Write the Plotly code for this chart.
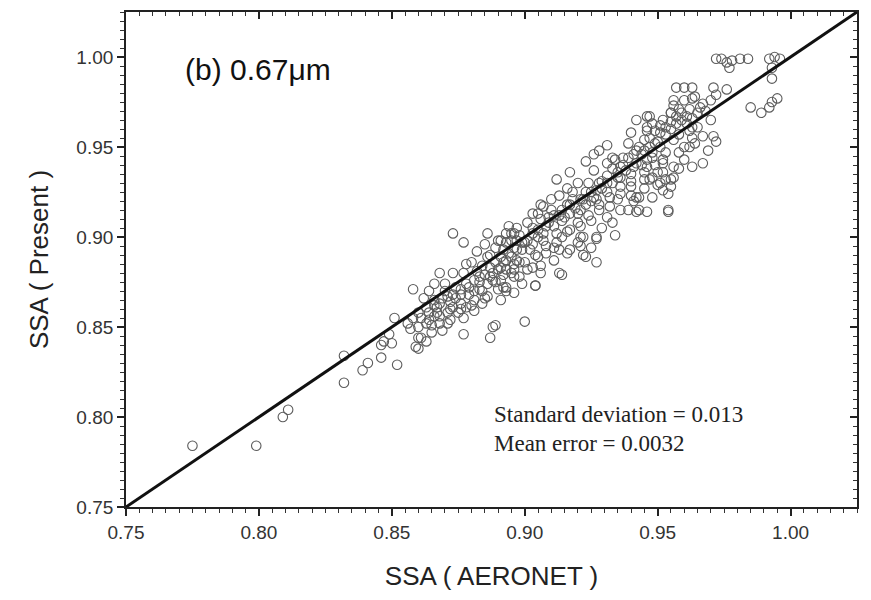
import plotly.graph_objects as go

# (AERONET SSA, retrieved SSA) pairs, grouped by where they sit in the cloud
low_tail = [
    (0.775, 0.784), (0.799, 0.784), (0.811, 0.804), (0.809, 0.800),
    (0.832, 0.819), (0.832, 0.834), (0.839, 0.826), (0.841, 0.830),
    (0.846, 0.840), (0.846, 0.833), (0.850, 0.841), (0.852, 0.829),
    (0.851, 0.855), (0.857, 0.849), (0.860, 0.844), (0.860, 0.838),
    (0.858, 0.871), (0.863, 0.842), (0.865, 0.851), (0.869, 0.848),
    (0.871, 0.852), (0.867, 0.858), (0.873, 0.861), (0.866, 0.874),
    (0.868, 0.880), (0.873, 0.880), (0.873, 0.902), (0.877, 0.897),
    (0.880, 0.886), (0.877, 0.846), (0.887, 0.844), (0.889, 0.851),
    (0.847, 0.842), (0.849, 0.846),
]

band_lower = [
    (0.860, 0.858), (0.863, 0.861), (0.866, 0.865), (0.868, 0.863),
    (0.871, 0.867), (0.873, 0.868), (0.876, 0.871), (0.878, 0.874),
    (0.881, 0.876), (0.883, 0.878), (0.886, 0.874), (0.888, 0.880),
    (0.891, 0.876), (0.893, 0.882), (0.896, 0.878), (0.891, 0.883),
    (0.893, 0.887), (0.897, 0.887), (0.890, 0.898), (0.893, 0.902),
    (0.896, 0.902), (0.876, 0.863), (0.878, 0.861), (0.881, 0.865),
    (0.884, 0.863), (0.875, 0.858), (0.871, 0.858), (0.866, 0.856),
    (0.863, 0.852), (0.860, 0.850), (0.861, 0.844), (0.859, 0.839),
    (0.865, 0.847), (0.868, 0.852), (0.872, 0.854), (0.877, 0.855),
    (0.881, 0.859), (0.886, 0.867), (0.890, 0.871), (0.893, 0.872),
    (0.896, 0.869), (0.891, 0.865), (0.888, 0.850),
    (0.862, 0.866), (0.864, 0.870), (0.882, 0.892), (0.884, 0.884),
    (0.887, 0.890), (0.893, 0.870), (0.885, 0.866), (0.879, 0.868),
    (0.874, 0.872), (0.870, 0.874), (0.877, 0.880), (0.883, 0.871),
    (0.889, 0.875), (0.895, 0.880), (0.886, 0.902),
    (0.856, 0.852), (0.858, 0.855), (0.861, 0.855), (0.864, 0.858),
    (0.867, 0.861), (0.869, 0.866), (0.872, 0.864), (0.874, 0.866),
    (0.876, 0.868), (0.879, 0.872), (0.881, 0.870), (0.883, 0.875),
    (0.885, 0.879), (0.887, 0.883), (0.889, 0.886), (0.891, 0.889),
    (0.892, 0.879), (0.888, 0.876), (0.884, 0.870), (0.880, 0.862),
    (0.876, 0.860), (0.872, 0.860), (0.868, 0.856), (0.864, 0.854),
    (0.870, 0.870), (0.866, 0.862), (0.882, 0.881), (0.878, 0.885),
    (0.885, 0.896), (0.894, 0.906),
]

band_middle = [
    (0.891, 0.898), (0.895, 0.902), (0.897, 0.905), (0.901, 0.908),
    (0.905, 0.913), (0.907, 0.917), (0.910, 0.921), (0.913, 0.923),
    (0.916, 0.927), (0.920, 0.930), (0.923, 0.942), (0.926, 0.946),
    (0.926, 0.937), (0.931, 0.941), (0.933, 0.944), (0.937, 0.944),
    (0.926, 0.922), (0.922, 0.921), (0.921, 0.915), (0.925, 0.909),
    (0.927, 0.900), (0.922, 0.900), (0.921, 0.906), (0.917, 0.913),
    (0.914, 0.909), (0.917, 0.904), (0.914, 0.900), (0.912, 0.902),
    (0.911, 0.894), (0.907, 0.898), (0.908, 0.891), (0.905, 0.889),
    (0.902, 0.893), (0.899, 0.897), (0.897, 0.893), (0.895, 0.889),
    (0.892, 0.886), (0.890, 0.882), (0.887, 0.878), (0.896, 0.882),
    (0.898, 0.886), (0.901, 0.882), (0.903, 0.883), (0.906, 0.880),
    (0.899, 0.874), (0.892, 0.872), (0.904, 0.873), (0.913, 0.880),
    (0.922, 0.890), (0.927, 0.886), (0.916, 0.891), (0.913, 0.893),
    (0.920, 0.897), (0.925, 0.894), (0.908, 0.906), (0.903, 0.902),
    (0.893, 0.897), (0.889, 0.894), (0.886, 0.889),
    (0.923, 0.889), (0.914, 0.879), (0.904, 0.873), (0.900, 0.853),
    (0.912, 0.932), (0.917, 0.936), (0.903, 0.913), (0.906, 0.918),
    (0.892, 0.893), (0.895, 0.898), (0.898, 0.901), (0.900, 0.897),
    (0.903, 0.905), (0.905, 0.900), (0.909, 0.908), (0.911, 0.912),
    (0.914, 0.915), (0.916, 0.918), (0.918, 0.921), (0.920, 0.913),
    (0.923, 0.918), (0.925, 0.925), (0.927, 0.921), (0.929, 0.927),
    (0.921, 0.895), (0.917, 0.893), (0.911, 0.887), (0.906, 0.884),
    (0.898, 0.878), (0.929, 0.905),
    (0.894, 0.891), (0.896, 0.894), (0.899, 0.893), (0.901, 0.898),
    (0.903, 0.896), (0.905, 0.904), (0.907, 0.902), (0.909, 0.911),
    (0.911, 0.906), (0.913, 0.912), (0.915, 0.911), (0.917, 0.918),
    (0.919, 0.916), (0.921, 0.921), (0.923, 0.925), (0.925, 0.920),
    (0.927, 0.926), (0.924, 0.912), (0.920, 0.908), (0.916, 0.903),
    (0.912, 0.897), (0.908, 0.895), (0.904, 0.890), (0.900, 0.886),
    (0.896, 0.885), (0.897, 0.898), (0.910, 0.915), (0.906, 0.910),
    (0.918, 0.925), (0.924, 0.930),
]

band_upper = [
    (0.939, 0.952), (0.940, 0.958), (0.942, 0.965), (0.946, 0.967),
    (0.948, 0.963), (0.952, 0.965), (0.955, 0.969), (0.956, 0.973),
    (0.945, 0.954), (0.948, 0.947), (0.952, 0.941), (0.955, 0.932),
    (0.951, 0.930), (0.948, 0.933), (0.945, 0.932), (0.942, 0.922),
    (0.940, 0.928), (0.936, 0.924), (0.943, 0.915), (0.939, 0.915),
    (0.935, 0.921), (0.932, 0.917), (0.933, 0.908), (0.928, 0.915),
    (0.954, 0.915), (0.948, 0.922), (0.954, 0.924), (0.956, 0.939),
    (0.935, 0.933), (0.931, 0.930), (0.928, 0.930), (0.936, 0.939),
    (0.941, 0.939), (0.946, 0.943), (0.951, 0.950), (0.956, 0.954),
    (0.942, 0.948), (0.946, 0.959), (0.951, 0.958),
    (0.942, 0.914), (0.940, 0.923), (0.931, 0.911), (0.927, 0.899),
    (0.921, 0.900), (0.934, 0.901), (0.931, 0.951), (0.928, 0.948),
    (0.931, 0.925), (0.933, 0.930), (0.936, 0.933), (0.938, 0.937),
    (0.940, 0.935), (0.942, 0.941), (0.944, 0.946), (0.947, 0.950),
    (0.950, 0.953), (0.953, 0.957), (0.955, 0.960), (0.957, 0.963),
    (0.959, 0.965), (0.961, 0.967), (0.963, 0.961), (0.958, 0.957),
    (0.953, 0.947), (0.945, 0.927), (0.941, 0.920), (0.936, 0.915),
    (0.929, 0.931), (0.931, 0.934), (0.933, 0.938), (0.935, 0.936),
    (0.937, 0.940), (0.939, 0.944), (0.941, 0.946), (0.943, 0.950),
    (0.945, 0.948), (0.947, 0.955), (0.949, 0.952), (0.951, 0.962),
    (0.953, 0.961), (0.955, 0.964), (0.957, 0.967), (0.959, 0.969),
    (0.961, 0.963), (0.944, 0.940), (0.940, 0.931), (0.936, 0.928),
    (0.932, 0.922), (0.928, 0.918), (0.934, 0.943), (0.949, 0.940),
    (0.952, 0.936), (0.958, 0.947),
]

top_end = [
    (0.972, 0.999), (0.974, 0.999), (0.976, 0.997), (0.978, 0.998),
    (0.981, 0.999), (0.984, 0.999), (0.977, 0.994), (0.992, 0.999),
    (0.994, 1.000), (0.996, 0.999), (0.993, 0.994), (0.993, 0.988),
    (0.957, 0.983), (0.960, 0.983), (0.963, 0.983), (0.971, 0.983),
    (0.976, 0.982), (0.972, 0.979), (0.956, 0.976), (0.960, 0.976),
    (0.963, 0.977), (0.967, 0.974), (0.970, 0.976), (0.958, 0.971),
    (0.962, 0.971), (0.965, 0.969), (0.955, 0.969), (0.947, 0.967),
    (0.946, 0.961), (0.949, 0.959), (0.962, 0.959), (0.965, 0.961),
    (0.970, 0.965), (0.967, 0.956), (0.963, 0.955), (0.960, 0.950),
    (0.962, 0.950), (0.971, 0.956), (0.972, 0.953), (0.985, 0.972),
    (0.989, 0.969), (0.992, 0.972), (0.995, 0.977), (0.993, 0.975),
    (0.948, 0.944), (0.952, 0.943), (0.946, 0.939), (0.950, 0.936),
    (0.947, 0.932), (0.953, 0.932), (0.956, 0.933), (0.958, 0.938),
    (0.960, 0.943), (0.963, 0.939), (0.967, 0.941), (0.955, 0.928),
    (0.950, 0.929), (0.952, 0.926), (0.945, 0.936), (0.943, 0.922),
    (0.946, 0.914), (0.954, 0.914), (0.966, 0.972), (0.968, 0.970),
    (0.964, 0.978), (0.969, 0.948), (0.963, 0.966), (0.964, 0.952),
]

axis_range = [0.75, 1.025]
one_to_one = [0.75, 1.025]
panel_label = "(b) 0.67\u03bcm"
stats_lines = ["Standard deviation = 0.013", "Mean error = 0.0032"]

points = low_tail + band_lower + band_middle + band_upper + top_end
aeronet = [p[0] for p in points]
present = [p[1] for p in points]

fig = go.Figure()
fig.add_trace(go.Scatter(
    x=aeronet, y=present, mode="markers", showlegend=False,
    marker=dict(symbol="circle-open", size=9.5, color="#5c5c5c",
                line=dict(width=1.1)),
))
# 1:1 line on the overlay axes so it sits above the circles
fig.add_trace(go.Scatter(
    x=one_to_one, y=one_to_one, mode="lines", showlegend=False,
    line=dict(color="#111111", width=3), xaxis="x2", yaxis="y2",
))

sans = "Liberation Sans, Arial, sans-serif"
serif = "Liberation Serif, Times New Roman, serif"
tick_font = dict(family=sans, size=19, color="#333333")
common = dict(
    range=axis_range, showgrid=False, zeroline=False, showline=True,
    linecolor="#222222", linewidth=1.8, tick0=0.75, dtick=0.05,
    ticklen=7, tickwidth=1.5, tickcolor="#222222",
)
minor_out = dict(tick0=0.75, dtick=0.005, ticks="outside", ticklen=4,
                 tickwidth=1, tickcolor="#333333")
minor_in = dict(tick0=0.75, dtick=0.005, ticks="inside", ticklen=4,
                tickwidth=1, tickcolor="#333333")

fig.update_layout(
    width=871, height=600,
    margin=dict(l=126, r=14, t=12, b=93),
    paper_bgcolor="white", plot_bgcolor="white",
    xaxis=dict(**common, ticks="outside", tickformat=".2f", tickfont=tick_font,
               minor=minor_out,
               title=dict(text="SSA ( AERONET )", standoff=25,
                          font=dict(family=sans, size=26, color="#222222"))),
    yaxis=dict(**common, ticks="outside", tickformat=".2f", tickfont=tick_font,
               minor=minor_out,
               title=dict(text="SSA ( Present )", standoff=20,
                          font=dict(family=sans, size=26, color="#222222"))),
    xaxis2=dict(**common, overlaying="x", side="top", anchor="y2", ticks="inside",
                showticklabels=False, minor=minor_in),
    yaxis2=dict(**common, overlaying="y", side="right", anchor="x2", ticks="inside",
                showticklabels=False, minor=minor_in),
    annotations=[
        dict(x=0.7715, y=0.993, xref="x", yref="y", text=panel_label,
             showarrow=False, xanchor="left", yanchor="middle",
             font=dict(family=sans, size=30, color="#111111")),
        dict(x=0.8875, y=0.8015, xref="x", yref="y", text=stats_lines[0],
             showarrow=False, xanchor="left", yanchor="middle",
             font=dict(family=serif, size=23, color="#222222")),
        dict(x=0.8875, y=0.7855, xref="x", yref="y", text=stats_lines[1],
             showarrow=False, xanchor="left", yanchor="middle",
             font=dict(family=serif, size=23, color="#222222")),
    ],
)

fig.write_html("out.html")
